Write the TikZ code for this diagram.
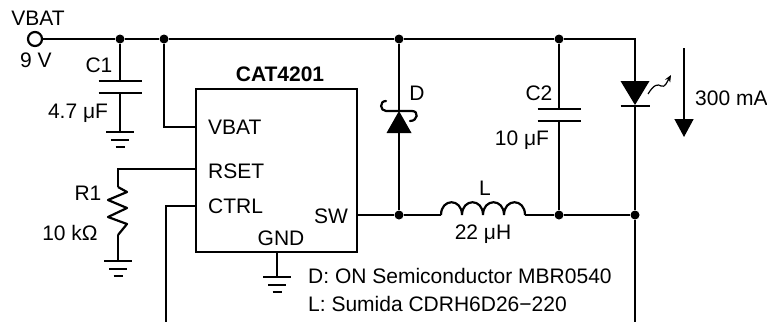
\documentclass[tikz,border=0pt]{standalone}
\usepackage{fontspec}
\setmainfont{Liberation Sans}
\usepackage{tikz}
\usetikzlibrary{arrows.meta}
\tikzset{
    gnd/.pic={
        \draw[line width=2.2pt] (-14,0) -- (14,0);
        \draw[line width=2.2pt] (-9,8) -- (9,8);
        \draw[line width=2.2pt] (-4.5,15) -- (4.5,15);
    }
}
\begin{document}
\begin{tikzpicture}[
                x=1pt,y=-1pt,
                wire/.style={line width=2.2pt},
                dot/.style={circle,fill=black,inner sep=0pt,minimum size=9pt},
                lbl/.style={inner sep=0pt,font=\fontsize{21}{24}\selectfont},
                chip/.style={draw,line width=2.2pt,minimum width=161pt,minimum height=163pt,inner sep=0pt}
            ]
                \useasboundingbox (0,0) rectangle (767,322);
                \node[chip] (ic) at (276.5,170.5) {};
                \node[circle,draw,line width=2.2pt,inner sep=0pt,minimum size=14pt] (vin) at (35,39) {};
                \node[dot] (jc1) at (120,39) {};
                \node[dot] (jvb) at (164,39) {};
                \node[dot] (jd) at (399,39) {};
                \node[dot] (jc2) at (559,39) {};
                \node[dot] (jsw) at (399,215) {};
                \node[dot] (jl) at (559,215) {};
                \node[dot] (jled) at (635,215) {};
                \coordinate (corner) at (635,39);
                \coordinate (pvbat) at (196,127);
                \coordinate (prset) at (196,169);
                \coordinate (pctrl) at (196,206);
                \coordinate (psw) at (357,215);
                \coordinate (pgnd) at (277,252);
                \coordinate (c1a) at (120,81);
                \coordinate (c1b) at (120,93);
                \coordinate (g1) at (120,132);
                \coordinate (r1a) at (118,187);
                \coordinate (r1b) at (118,235);
                \coordinate (g2) at (118,261);
                \coordinate (g3) at (277,277);
                \coordinate (c2a) at (559,109);
                \coordinate (c2b) at (559,121);
                \coordinate (la) at (441,215);
                \coordinate (lb) at (525,215);
                \coordinate (da) at (399,133);
                \coordinate (dk) at (399,111);
                \coordinate (leda) at (635,81);
                \coordinate (ledk) at (635,106);
                \coordinate (ctrlend) at (166,322);
                \coordinate (ledend) at (635,322);
                \coordinate (ia) at (684,48);
                \coordinate (ib) at (684,137);
                \draw[wire] (vin) -- (jc1) -- (jvb) -- (jd) -- (jc2) -- (corner) -- (leda);
                \draw[wire] (ledk) -- (jled) -- (ledend);
                \draw[wire] (jc1) -- (c1a);
                \draw[wire] (c1b) -- (g1);
                \draw[wire] (c1a)+(-21.5,0) -- +(21.5,0);
                \draw[wire] (c1b)+(-21.5,0) -- +(21.5,0);
                \pic at (g1) {gnd};
                \draw[wire] (jvb) |- (pvbat);
                \draw[wire] (prset) -| (r1a);
                \draw[wire,line join=round] (r1a) -- ++(9,5) -- ++(-19,8) -- ++(19,8) -- ++(-19,9) -- ++(19,7) -- (r1b);
                \draw[wire] (r1b) -- (g2);
                \pic at (g2) {gnd};
                \draw[wire] (pctrl) -| (ctrlend);
                \draw[wire] (pgnd) -- (g3);
                \pic at (g3) {gnd};
                \draw[wire] (psw) -- (jsw) -- (la);
                \draw[wire] (la) .. controls +(0,-17) and +(0,-17) .. ++(21,0)
                    .. controls +(0,-17) and +(0,-17) .. ++(21,0)
                    .. controls +(0,-17) and +(0,-17) .. ++(21,0)
                    .. controls +(0,-17) and +(0,-17) .. (lb);
                \draw[wire] (lb) -- (jl) -- (jled);
                \draw[wire] (jd) -- (dk);
                \draw[wire] (da) -- (jsw);
                \fill (da)+(-12.5,0) -- +(12.5,0) -- (dk) -- cycle;
                \draw[wire,line cap=round] (dk) -- (386,111) .. controls (380,111) and (379,101) .. (386,101);
                \draw[wire,line cap=round] (dk) -- (412,111) .. controls (419,111) and (418,121) .. (410,121);
                \draw[wire] (jc2) -- (c2a);
                \draw[wire] (c2b) -- (jl);
                \draw[wire] (c2a)+(-21.5,0) -- +(21.5,0);
                \draw[wire] (c2b)+(-21.5,0) -- +(21.5,0);
                \fill (leda)+(-14.5,0) -- +(14.5,0) -- (635,105) -- cycle;
                \draw[wire] (ledk)+(-14.5,0) -- +(14.5,0);
                \draw[line width=1.2pt,-{Stealth[length=7pt,width=6pt]}] (648,94) .. controls (654,84) and (658,84) .. (661,86) .. controls (665,88) and (667,82) .. (671,75);
                \draw[line width=1.4pt,-{Triangle[length=18pt,width=19pt]}] (ia) -- (ib);
                \node[lbl] (lvin) at (38,18) {VBAT};
                \node[lbl] (lv) at (36,60) {9 V};
                \node[lbl] (lc1) at (99,65) {C1};
                \node[lbl] (vc1) at (78,113) {4.7 μF};
                \node[lbl] (lr1) at (88,193) {R1};
                \node[lbl] (vr1) at (70,233) {10 kΩ};
                \node[lbl,font=\fontsize{21}{24}\selectfont\bfseries] (lic) at (280,74) {CAT4201};
                \node[lbl,anchor=west] (tvbat) at (208,127) {VBAT};
                \node[lbl,anchor=west] (trset) at (208,171) {RSET};
                \node[lbl,anchor=west] (tctrl) at (208,206) {CTRL};
                \node[lbl] (tsw) at (331,216) {SW};
                \node[lbl] (tgnd) at (281,238) {GND};
                \node[lbl] (ld) at (417,93) {D};
                \node[lbl] (lc2) at (539,93) {C2};
                \node[lbl] (vc2) at (522,140) {10 μF};
                \node[lbl] (ll) at (485,188) {L};
                \node[lbl] (vl) at (483,234) {22 μH};
                \node[lbl,anchor=west] (li) at (695,98) {300 mA};
                \node[lbl,anchor=west] (nd) at (308,276) {D: ON Semiconductor MBR0540};
                \node[lbl,anchor=west] (nl) at (308,304) {L: Sumida CDRH6D26−220};
            \end{tikzpicture}
\end{document}
